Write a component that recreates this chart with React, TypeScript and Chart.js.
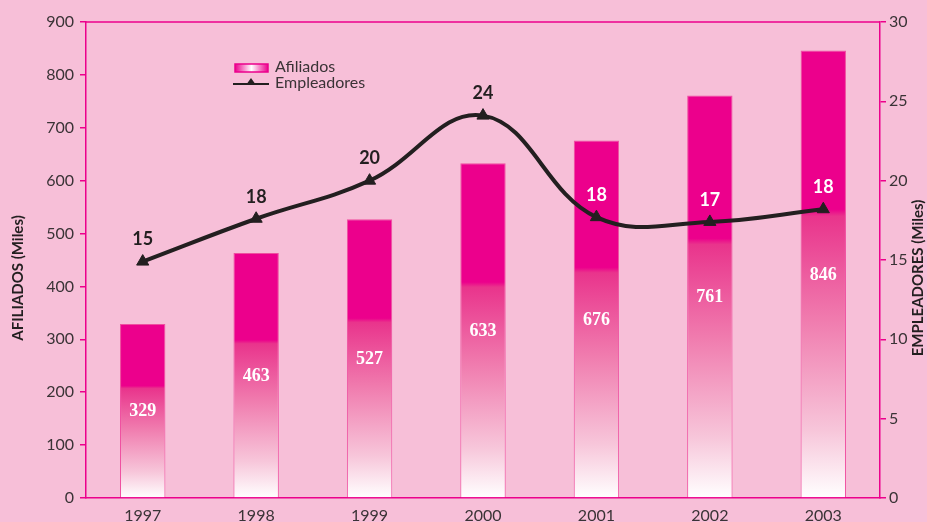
import React, { useEffect, useRef } from "react";
import { Chart, registerables } from "chart.js";

Chart.register(...registerables);

const years = ["1997", "1998", "1999", "2000", "2001", "2002", "2003"];
const afiliados = [329, 463, 527, 633, 676, 761, 846];
const empleadores = [14.9, 17.6, 20.0, 24.1, 17.7, 17.4, 18.2];
const empleadoresLabels = ["15", "18", "20", "24", "18", "17", "18"];
const leftTitle = "AFILIADOS (Miles)";
const rightTitle = "EMPLEADORES (Miles)";
const legendLabels = ["Afiliados", "Empleadores"];

const BG = "#F7BFD8";
const MAGENTA = "#EC008C";
const DARK = "#231F20";
const TICK = "#3A3336";
const SANS = "Lato, 'Open Sans', sans-serif";

const decorPlugin = {
  id: "decor",
  beforeDraw(chart: any) {
    const { ctx, width, height } = chart;
    ctx.save();
    ctx.fillStyle = BG;
    ctx.fillRect(0, 0, width, height);
    ctx.restore();
  },
  afterDraw(chart: any) {
    const { ctx, chartArea } = chart;
    ctx.save();
    // top border
    ctx.strokeStyle = MAGENTA;
    ctx.lineWidth = 1.5;
    ctx.beginPath();
    ctx.moveTo(chartArea.left, chartArea.top);
    ctx.lineTo(chartArea.right, chartArea.top);
    ctx.stroke();

    // bar value labels
    const barMeta = chart.getDatasetMeta(0);
    ctx.textAlign = "center";
    ctx.textBaseline = "middle";
    ctx.font = "bold 18px 'Liberation Serif', serif";
    ctx.fillStyle = "#FFFFFF";
    barMeta.data.forEach((el: any, i: number) => {
      const mid = (el.y + el.base) / 2 + 1;
      ctx.fillText(String(afiliados[i]), el.x, mid);
    });

    // line value labels
    const lineMeta = chart.getDatasetMeta(1);
    ctx.font = "bold 18px " + SANS;
    lineMeta.data.forEach((pt: any, i: number) => {
      const ly = pt.y - 22;
      const barTop = barMeta.data[i].y;
      ctx.fillStyle = barTop < ly - 10 ? "#FFFFFF" : DARK;
      ctx.fillText(empleadoresLabels[i], pt.x, ly);
    });

    // axis titles
    ctx.font = "bold 15px " + SANS;
    ctx.fillStyle = DARK;
    const cy = (chartArea.top + chartArea.bottom) / 2 + 18;
    ctx.save();
    ctx.translate(18, cy);
    ctx.rotate(-Math.PI / 2);
    ctx.fillText(leftTitle, 0, 0);
    ctx.restore();
    ctx.save();
    ctx.translate(918, cy);
    ctx.rotate(-Math.PI / 2);
    ctx.fillText(rightTitle, 0, 0);
    ctx.restore();

    // legend
    const lx = 235;
    const ly1 = 68;
    const ly2 = 84;
    const g = ctx.createLinearGradient(lx, 0, lx + 33, 0);
    g.addColorStop(0, MAGENTA);
    g.addColorStop(0.5, "#FFFFFF");
    g.addColorStop(1, MAGENTA);
    ctx.fillStyle = g;
    ctx.fillRect(lx, ly1 - 4, 33, 8);
    ctx.strokeStyle = MAGENTA;
    ctx.lineWidth = 1.5;
    ctx.strokeRect(lx, ly1 - 4, 33, 8);
    ctx.strokeStyle = DARK;
    ctx.lineWidth = 2;
    ctx.beginPath();
    ctx.moveTo(lx - 2, ly2);
    ctx.lineTo(lx + 34, ly2);
    ctx.stroke();
    ctx.fillStyle = DARK;
    ctx.beginPath();
    ctx.moveTo(lx + 16, ly2 - 6);
    ctx.lineTo(lx + 21, ly2 + 1);
    ctx.lineTo(lx + 11, ly2 + 1);
    ctx.closePath();
    ctx.fill();
    ctx.font = "16px " + SANS;
    ctx.fillStyle = TICK;
    ctx.textAlign = "left";
    ctx.fillText(legendLabels[0], lx + 40, ly1 - 1);
    ctx.fillText(legendLabels[1], lx + 40, ly2 - 1);
    ctx.restore();
  },
};

function barFill(c: any) {
  const chart = c.chart;
  if (!chart.chartArea || c.raw == null) return MAGENTA;
  const ys = chart.scales.y;
  const top = ys.getPixelForValue(c.raw);
  const bottom = ys.getPixelForValue(0);
  const g = chart.ctx.createLinearGradient(0, top, 0, bottom);
  g.addColorStop(0, MAGENTA);
  g.addColorStop(0.355, MAGENTA);
  g.addColorStop(0.37, "#E9348C");
  g.addColorStop(0.6, "#F07BAE");
  g.addColorStop(0.85, "#F7C6DA");
  g.addColorStop(1, "#FFFFFF");
  return g;
}

export default function App() {
  const ref = useRef<HTMLCanvasElement | null>(null);
  useEffect(() => {
    document.body.style.margin = "0";
    if (!ref.current) return;
    const chart = new Chart(ref.current, {
      type: "bar",
      data: {
        labels: years,
        datasets: [
          {
            type: "bar",
            label: legendLabels[0],
            data: afiliados,
            yAxisID: "y",
            backgroundColor: barFill as any,
            borderColor: "#EF4FA0",
            borderWidth: 1,
            barPercentage: 0.4,
            categoryPercentage: 1,
            order: 2,
          },
          {
            type: "line",
            label: legendLabels[1],
            data: empleadores,
            yAxisID: "y1",
            borderColor: DARK,
            borderWidth: 4,
            tension: 0.4,
            pointStyle: "triangle",
            pointRadius: 7,
            pointBackgroundColor: DARK,
            pointBorderColor: DARK,
            pointBorderWidth: 1,
            order: 1,
          } as any,
        ],
      },
      options: {
        responsive: true,
        maintainAspectRatio: false,
        animation: false,
        layout: { padding: { top: 22 } },
        plugins: {
          legend: { display: false },
          tooltip: { enabled: false },
          title: { display: false },
        },
        scales: {
          x: {
            grid: { display: false, drawTicks: false },
            border: { color: MAGENTA, width: 1.5 },
            ticks: { color: TICK, font: { size: 16, family: SANS }, padding: 8 },
            afterFit: (s: any) => {
              s.height = 24;
            },
          },
          y: {
            position: "left",
            min: 0,
            max: 900,
            ticks: { stepSize: 100, color: TICK, font: { size: 16, family: SANS }, padding: 6 },
            grid: { drawOnChartArea: false, drawTicks: true, tickLength: 6, color: MAGENTA, lineWidth: 1.5 },
            border: { color: MAGENTA, width: 1.5 },
            afterFit: (s: any) => {
              s.width = 86;
            },
          },
          y1: {
            position: "right",
            min: 0,
            max: 30,
            ticks: { stepSize: 5, color: TICK, font: { size: 16, family: SANS }, padding: 3 },
            grid: { drawOnChartArea: false, drawTicks: true, tickLength: 6, color: MAGENTA, lineWidth: 1.5 },
            border: { color: MAGENTA, width: 1.5 },
            afterFit: (s: any) => {
              s.width = 47;
            },
          },
        },
      },
      plugins: [decorPlugin],
    });
    return () => chart.destroy();
  }, []);
  return (
    <div style={{ position: "relative", width: 927, height: 522, background: BG }}>
      <canvas ref={ref} />
    </div>
  );
}
